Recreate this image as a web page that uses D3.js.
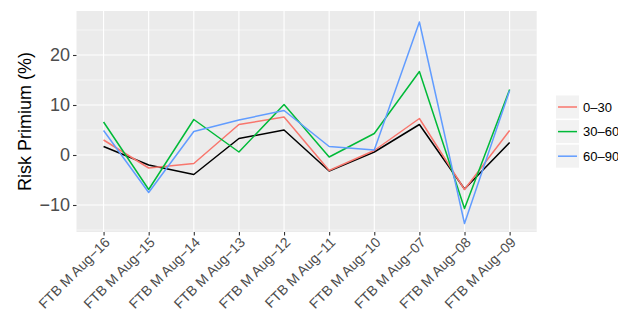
<!DOCTYPE html>
<html>
<head>
<meta charset="utf-8">
<script src="https://cdn.jsdelivr.net/npm/d3@7"></script>
<style>
  body{margin:0;background:#fff;}
  svg{display:block;font-family:"Liberation Sans",Arial,sans-serif;}
  .grid line{stroke:#fff;}
  .tick-label{fill:#4d4d4d;}
</style>
</head>
<body>
<svg id="chart" width="618" height="315"></svg>
<script>
// data
const categories = ['FTB M Aug\u221216','FTB M Aug\u221215','FTB M Aug\u221214','FTB M Aug\u221213','FTB M Aug\u221212',
  'FTB M Aug\u221211','FTB M Aug\u221210','FTB M Aug\u221207','FTB M Aug\u221208','FTB M Aug\u221209'];
const overall = [1.7, -2.0, -3.9, 3.3, 5.0, -3.2, 0.6, 6.1, -6.8, 2.5];
const band0_30 = [3.0, -2.6, -1.7, 6.1, 7.6, -3.1, 0.9, 7.3, -6.9, 4.9];
const band30_60 = [6.6, -6.9, 7.1, 0.6, 10.1, -0.4, 4.3, 16.7, -10.7, 13.1];
const band60_90 = [4.9, -7.5, 4.7, 7.0, 8.9, 1.7, 1.0, 26.6, -13.7, 12.9];
const seriesNames = ['0\u201330','30\u201360','60\u201390'];
const seriesColors = ['#F8766D','#00BA38','#619CFF'];
const yTicks = [-10, 0, 10, 20];
const yMinor = [-15, -5, 5, 15, 25];
const yDomain = [-15.4, 28.8];

const svg = d3.select('#chart');
const P = {left:76.5, right:536.7, top:11, bottom:232};

const x = d3.scalePoint().domain(categories).range([P.left, P.right]).padding(0.6);
const y = d3.scaleLinear().domain(yDomain).range([P.bottom, P.top]);

// panel
svg.append('rect').attr('x',P.left).attr('y',P.top)
  .attr('width',P.right-P.left).attr('height',P.bottom-P.top).attr('fill','#ebebeb');

const grid = svg.append('g').attr('class','grid');
grid.selectAll('line.minor').data(yMinor).enter().append('line')
  .attr('x1',P.left).attr('x2',P.right)
  .attr('y1',d=>y(d)).attr('y2',d=>y(d)).attr('stroke-width',0.55);
grid.selectAll('line.major').data(yTicks).enter().append('line')
  .attr('x1',P.left).attr('x2',P.right)
  .attr('y1',d=>y(d)).attr('y2',d=>y(d)).attr('stroke-width',1.1);
grid.selectAll('line.vx').data(categories).enter().append('line')
  .attr('y1',P.top).attr('y2',P.bottom)
  .attr('x1',d=>x(d)).attr('x2',d=>x(d)).attr('stroke-width',1.1);

// axes
const yAxis = d3.axisLeft(y).tickValues(yTicks).tickSize(3.5).tickPadding(3)
  .tickFormat(d=> d<0 ? '\u2212'+Math.abs(d) : d);
const gy = svg.append('g').attr('transform',`translate(${P.left},0)`).call(yAxis);
gy.select('.domain').remove();
gy.selectAll('.tick line').attr('stroke','#333').attr('stroke-width',1.1);
gy.selectAll('.tick text').attr('fill','#4d4d4d').style('font-size','18px');

const xAxis = d3.axisBottom(x).tickSize(3.5).tickFormat('');
const gx = svg.append('g').attr('transform',`translate(0,${P.bottom})`).call(xAxis);
gx.select('.domain').remove();
gx.selectAll('.tick line').attr('stroke','#333').attr('stroke-width',1.1);

svg.append('g').selectAll('text').data(categories).enter().append('text')
  .attr('class','tick-label')
  .attr('transform',d=>`translate(${x(d)},${P.bottom+4}) rotate(-45)`)
  .attr('text-anchor','end').attr('dy','0.72em')
  .style('font-size','14px')
  .text(d=>d);

svg.append('text')
  .attr('transform',`translate(31,${(P.top+P.bottom)/2}) rotate(-90)`)
  .attr('text-anchor','middle').style('font-size','18px').attr('fill','#000')
  .text('Risk Primium (%)');

// lines
const line = d3.line().x((d,i)=>x(categories[i])).y(d=>y(d));
const allSeries = [
  {vals:overall, color:'#000'},
  {vals:band0_30, color:seriesColors[0]},
  {vals:band30_60, color:seriesColors[1]},
  {vals:band60_90, color:seriesColors[2]}
];
svg.append('g').selectAll('path').data(allSeries).enter().append('path')
  .attr('d',d=>line(d.vals)).attr('fill','none')
  .attr('stroke',d=>d.color).attr('stroke-width',1.5)
  .attr('stroke-linejoin','round');

// legend (no title)
const lg = svg.append('g').attr('transform','translate(556,95.5)');
const key = lg.selectAll('g').data(seriesNames).enter().append('g')
  .attr('transform',(d,i)=>`translate(0,${i*24.6})`);
key.append('rect').attr('width',23).attr('height',23).attr('fill','#f2f2f2');
key.append('line').attr('x1',2).attr('x2',21).attr('y1',11.5).attr('y2',11.5)
  .attr('stroke',(d,i)=>seriesColors[i]).attr('stroke-width',1.5);
key.append('text').attr('x',27).attr('y',11.5).attr('dy','0.36em')
  .style('font-size','13px').attr('fill','#000').text(d=>d);
</script>
</body>
</html>
